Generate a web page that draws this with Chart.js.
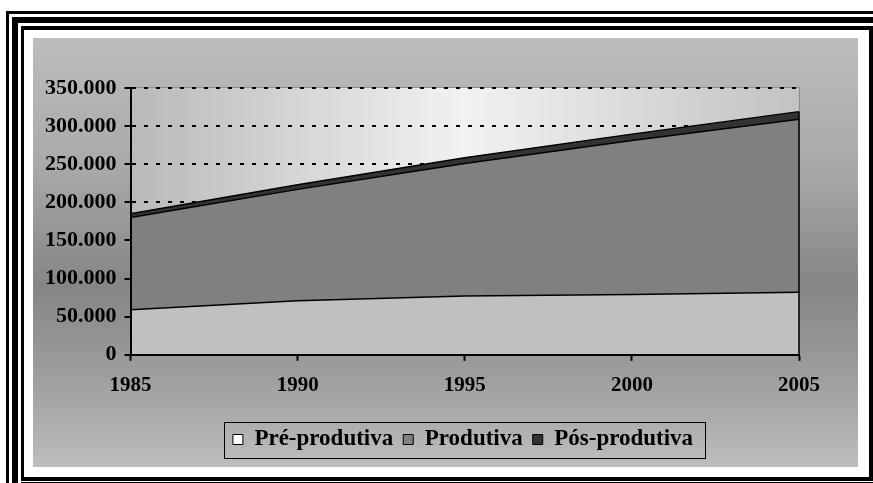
<!DOCTYPE html>
<html>
<head>
<meta charset="utf-8">
<script src="https://cdn.jsdelivr.net/npm/chart.js@4.4.1/dist/chart.umd.min.js"></script>
<style>
  html, body { margin: 0; padding: 0; background: #fff; }
  body { width: 873px; height: 483px; position: relative; overflow: hidden; }
  .linha { position: absolute; border: 0 solid #000; box-sizing: border-box; }
  #moldura1 { left: 6px; top: 11px; width: 900px; height: 600px; border-top-width: 3px; border-left-width: 3px; }
  #moldura2 { left: 12px; top: 17px; width: 900px; height: 600px; border-top-width: 6px; border-left-width: 6px; }
  #moldura3 { left: 21px; top: 26px; width: 852px; height: 455px; border-width: 4px 4px 4px 3px; }
  #moldura4 { left: 21px; top: 482px; width: 852px; height: 2px; border-top-width: 1px; }
  #caixa {
    position: absolute; left: 33px; top: 38px; width: 825px; height: 429px;
    background: linear-gradient(to bottom, #bdbdbd 0%, #a9a9a9 30%, #858585 58%, #a6a6a6 85%, #bebebe 100%);
  }
</style>
</head>
<body>
<div class="linha" id="moldura1"></div>
<div class="linha" id="moldura2"></div>
<div class="linha" id="moldura3"></div>
<div class="linha" id="moldura4"></div>
<div id="caixa"><canvas id="grafico" width="825" height="429"></canvas></div>
<script>
// Dados (população por faixa)
const anos = ['1985', '1990', '1995', '2000', '2005'];
const preProdutiva = [59000, 71000, 77000, 79000, 82000];
const produtiva = [121000, 146000, 174000, 202000, 227000];
const posProdutiva = [5000, 6000, 7500, 8500, 10000];

const nomes = ['Pré-produtiva', 'Produtiva', 'Pós-produtiva'];
const cores = ['#c0c0c0', '#808080', '#333333'];
const coresLegenda = ['#ffffff', '#808080', '#333333'];

const familia = '"Liberation Serif", "Times New Roman", serif';
const fonteY = { family: familia, size: 22, weight: 'bold' };
const fonteX = { family: familia, size: 21, weight: 'bold' };
const fonteLegenda = { family: familia, size: 23, weight: 'bold' };

// formato 350.000
function formatar(v) {
    return v.toString().replace(/\B(?=(\d{3})+(?!\d))/g, '.');
}

// fundo da área de plotagem + moldura da legenda
const fundoPlot = {
    id: 'fundoPlot',
    afterLayout(chart) {
        // legenda um pouco deslocada para a direita, como no original
        chart.legend.left += 45;
        chart.legend.right += 45;
    },
    beforeDraw(chart) {
        const { ctx, chartArea: a } = chart;
        const g = ctx.createLinearGradient(a.left, 0, a.right, 0);
        g.addColorStop(0, '#b9b9b9');
        g.addColorStop(0.5, '#f2f2f2');
        g.addColorStop(1, '#c2c2c2');
        ctx.save();
        ctx.fillStyle = g;
        ctx.fillRect(a.left, a.top, a.right - a.left, a.bottom - a.top);
        ctx.strokeStyle = '#8a8a8a';
        ctx.lineWidth = 1;
        ctx.strokeRect(a.left + 0.5, a.top - 0.5, a.right - a.left, a.bottom - a.top);
        ctx.restore();
    },
    afterDatasetsDraw(chart) {
        const { ctx, chartArea: a } = chart;
        const meta = chart.getDatasetMeta(2);
        const p = meta.data[meta.data.length - 1];
        ctx.save();
        ctx.strokeStyle = '#000';
        ctx.lineWidth = 1.5;
        ctx.beginPath();
        ctx.moveTo(a.right, p.y);
        ctx.lineTo(a.right, a.bottom);
        ctx.stroke();
        ctx.restore();
    },
    afterDraw(chart) {
        const lg = chart.legend;
        if (!lg || !lg.legendHitBoxes.length) return;
        const hb = lg.legendHitBoxes;
        const x0 = Math.min(...hb.map(h => h.left)) - 9;
        const x1 = Math.max(...hb.map(h => h.left + h.width)) + 12;
        const y0 = hb[0].top - 6;
        const y1 = hb[0].top + hb[0].height + 7;
        const ctx = chart.ctx;
        ctx.save();
        ctx.strokeStyle = '#000';
        ctx.lineWidth = 1;
        ctx.strokeRect(Math.round(x0) + 0.5, Math.round(y0) + 0.5, Math.round(x1 - x0), Math.round(y1 - y0));
        ctx.restore();
    }
};

const series = [preProdutiva, produtiva, posProdutiva];

new Chart(document.getElementById('grafico'), {
    type: 'line',
    data: {
        labels: anos,
        datasets: series.map((s, i) => ({
            label: nomes[i],
            data: s,
            backgroundColor: cores[i],
            borderColor: '#000',
            borderWidth: 1.5,
            fill: i === 0 ? 'origin' : '-1',
            pointRadius: 0,
            tension: 0
        }))
    },
    options: {
        responsive: false,
        animation: false,
        layout: { padding: { left: 4, right: 59, top: 50, bottom: 6 } },
        scales: {
            x: {
                offset: false,
                grid: { drawOnChartArea: false, drawTicks: true, tickLength: 6, tickColor: '#000', tickWidth: 2 },
                border: { display: true, color: '#000', width: 2, z: 1 },
                ticks: { color: '#000', font: fonteX, padding: 12, maxRotation: 0 },
                afterFit(scale) { scale.height += 8; }
            },
            y: {
                stacked: true,
                min: 0,
                max: 350000,
                grid: { color: '#000', lineWidth: 2, tickLength: 6, tickColor: '#000', tickWidth: 2, tickBorderDash: [] },
                border: { display: true, color: '#000', width: 2, dash: [4, 8], z: 1 },
                ticks: { stepSize: 50000, color: '#000', font: fonteY, padding: 8, callback: v => formatar(v) }
            }
        },
        plugins: {
            legend: {
                position: 'bottom',
                labels: {
                    color: '#000',
                    font: fonteLegenda,
                    boxWidth: 10,
                    boxHeight: 10,
                    padding: 10,
                    generateLabels(chart) {
                        return chart.data.datasets.map((d, i) => ({
                            text: d.label,
                            fillStyle: coresLegenda[i],
                            strokeStyle: '#000',
                            lineWidth: 1,
                            datasetIndex: i,
                            fontColor: '#000'
                        }));
                    }
                }
            },
            tooltip: { enabled: false }
        }
    },
    plugins: [fundoPlot]
});
</script>
</body>
</html>
